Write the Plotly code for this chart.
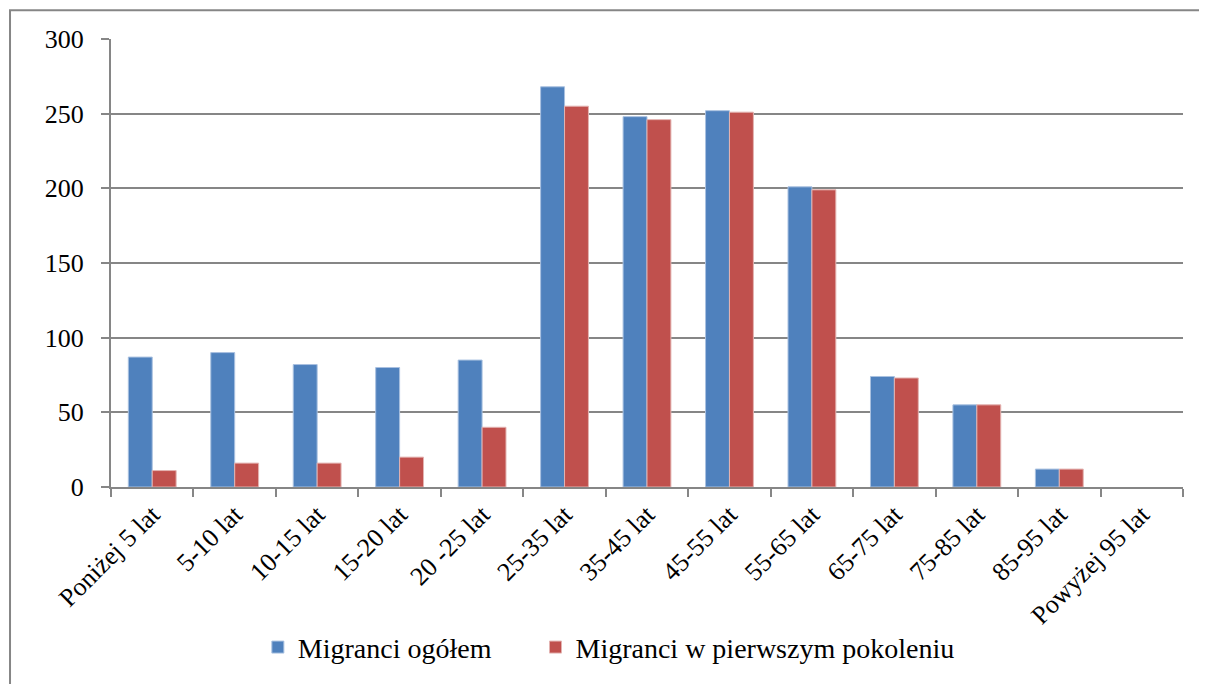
import plotly.graph_objects as go

categories = ["Poniżej 5 lat", "5-10 lat", "10-15 lat", "15-20 lat", "20 -25 lat", "25-35 lat",
              "35-45 lat", "45-55 lat", "55-65 lat", "65-75 lat", "75-85 lat", "85-95 lat", "Powyżej 95 lat"]
migranci_ogolem = [87, 90, 82, 80, 85, 268, 248, 252, 201, 74, 55, 12, 0]
migranci_pierwsze = [11, 16, 16, 20, 40, 255, 246, 251, 199, 73, 55, 12, 0]
y_ticks = [0, 50, 100, 150, 200, 250, 300]

FONT = "Liberation Serif"
GRID = "#868686"

fig = go.Figure()
fig.add_trace(go.Bar(x=categories, y=migranci_ogolem, name="Migranci ogółem", legend="legend",
                     marker=dict(color="#4F81BD",
                                 line=dict(color="#A9C1E0",
                                           width=[1 if v > 0 else 0 for v in migranci_ogolem]))))
fig.add_trace(go.Bar(x=categories, y=migranci_pierwsze, name="Migranci w pierwszym pokoleniu",
                     legend="legend2",
                     marker=dict(color="#C0504D",
                                 line=dict(color="#E3B3B1",
                                           width=[1 if v > 0 else 0 for v in migranci_pierwsze]))))

legend_common = dict(orientation="h", xanchor="left", y=-0.358, yanchor="middle",
                     font=dict(family=FONT, size=28, color="black"), itemwidth=30,
                     bgcolor="rgba(0,0,0,0)")

# page body has an 8px margin: figure is shifted by 8px right/down
fig.update_layout(
    width=1199, height=676,
    margin=dict(l=103, r=24, t=31, b=195),
    paper_bgcolor="white", plot_bgcolor="white",
    barmode="group", bargap=0.42, bargroupgap=0,
    font=dict(family=FONT, color="black"),
    showlegend=True,
    legend=dict(x=0.137, **legend_common),
    legend2=dict(x=0.396, **legend_common),
    xaxis=dict(type="category", tickson="boundaries", ticks="outside", ticklen=8,
               tickcolor=GRID, tickwidth=2, showline=True, linecolor=GRID, linewidth=2,
               showgrid=False, tickangle=-45, tickfont=dict(family=FONT, size=26, color="black")),
    yaxis=dict(range=[0, 300], tickvals=y_ticks, ticks="outside", ticklen=8, tickcolor=GRID,
               tickwidth=2, showline=True, linecolor=GRID, linewidth=2, showgrid=True,
               gridcolor=GRID, gridwidth=2, zeroline=False, ticklabelstandoff=12,
               tickfont=dict(family=FONT, size=26, color="black")),
    shapes=[dict(type="path", xref="paper", yref="paper",
                 path="M -0.0942 -0.47 L -0.0942 1.0644 L 1.06 1.0644",
                 line=dict(color="#868686", width=2), layer="below")],
)

fig.write_html("out.html")
